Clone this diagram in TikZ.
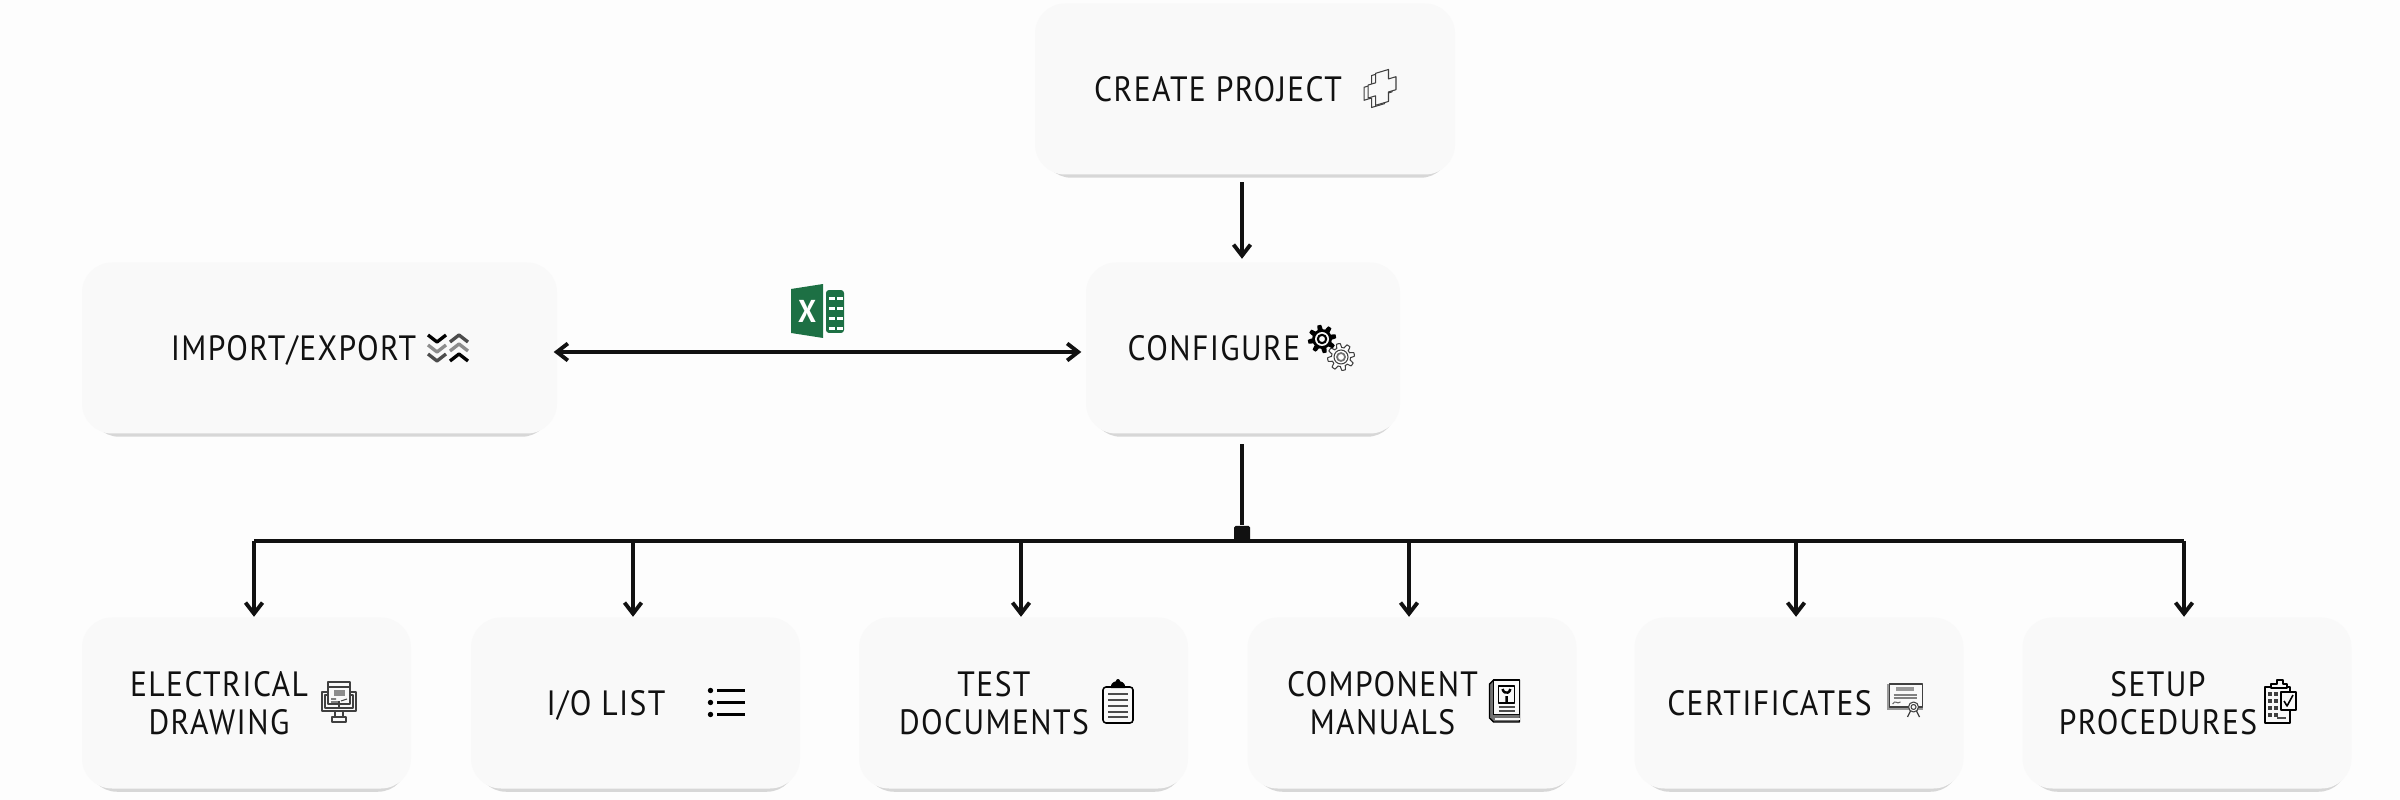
\documentclass[tikz,border=0pt]{standalone}
\usepackage{fontspec}
\setmainfont[LetterSpace=4,FakeStretch=.9]{PT Sans}
\usetikzlibrary{calc,positioning,arrows.meta,shadows}

\definecolor{pagegray}{HTML}{FDFDFD}
\definecolor{panelgray}{HTML}{F9F9F9}
\definecolor{inkblack}{HTML}{111111}
\definecolor{excelgreen}{HTML}{1D7044}

\tikzset{
    icon/.style={x=.01cm,y=.01cm,line join=round},
    thinline/.style={draw=black!75,line width=.3pt},
    pics/crossicon/.style={code={
        \begin{scope}[icon,yslant=.3,thinline,fill=panelgray]
            \foreach \d in {-4,0}
                \draw[fill=panelgray,shift={(\d+2,\d/4)}] (-6.5,16) -- (6.5,16) -- (6.5,6.5) -- (14,6.5) -- (14,-6.5) -- (6.5,-6.5) -- (6.5,-16)
                    -- (-6.5,-16) -- (-6.5,-6.5) -- (-14,-6.5) -- (-14,6.5) -- (-6.5,6.5) -- cycle;
        \end{scope}
    }},
    pics/chevronicon/.style={code={
        \begin{scope}[icon,line width=.95pt]
            \draw[black] (-20,13) -- (-11,6) -- (-2,13);
            \draw[black!45] (-20,3) -- (-11,-4) -- (-2,3);
            \draw[black!70] (-20,-6) -- (-11,-13) -- (-2,-6);
            \draw[black!70] (2,6) -- (11,13) -- (20,6);
            \draw[black!45] (2,-3) -- (11,4) -- (20,-3);
            \draw[black] (2,-13) -- (11,-6) -- (20,-13);
        \end{scope}
    }},
    pics/gearicon/.style={code={
        \begin{scope}[icon]
            \fill[black,shift={(-9.5,9)}] plot[domain=0:360,samples=97] (\x:{12+2.2*max(-1,min(1,2.5*sin(8*\x)))}) -- cycle;
            \fill[panelgray,shift={(-9.5,9)}] (0,0) circle (7);
            \draw[black,line width=.6pt,shift={(-9.5,9)}] (0,0) circle (4.2);
            \draw[thinline,fill=white,shift={(9.5,-9)}] plot[domain=0:360,samples=97] (\x:{11.5+2*max(-1,min(1,2.5*sin(8*\x)))}) -- cycle;
            \draw[thinline,shift={(9.5,-9)}] (0,0) circle (7);
            \draw[black!55,line width=.5pt,shift={(9.5,-9)}] (0,0) circle (4);
        \end{scope}
    }},
    pics/excelicon/.style={code={
        \begin{scope}[icon]
            \fill[excelgreen,rounded corners=.03cm] (8,21) -- (26,21) -- (26,-22) -- (8,-22) -- cycle;
            \foreach \r in {14,4,-6,-16}
                \foreach \c in {11,19}
                    \fill[white] (\c,\r) rectangle ++(6,-3);
            \fill[white] (5,27) -- (7,27) -- (7,-27) -- (5,-27) -- cycle;
            \fill[excelgreen] (-27,22) -- (5,27) -- (5,-27) -- (-27,-22) -- cycle;
            \node[text=white,font=\bfseries\fontsize{9}{9}\selectfont,inner sep=0pt] (excelmark) at (-11,0) {X};
        \end{scope}
    }},
    pics/monitoricon/.style={code={
        \begin{scope}[icon,thinline]
            \draw[fill=panelgray] (-17,10) rectangle (17,-9);
            \draw (-14,7) rectangle (14,-6);
            \draw (-4,-9) -- (-4,-15) (4,-9) -- (4,-15);
            \draw (-7,-15) rectangle (7,-20);
            \draw[fill=panelgray] (-11,20) rectangle (11,-2);
            \draw (-11,15) -- (11,15);
            \fill[black!45] (-5,12) rectangle (6,6);
            \draw (-8,3) -- (-3,3) (-8,0) -- (-1,0) (2,1) -- (8,3);
            \draw (0,1) -- (0,-5);
        \end{scope}
    }},
    pics/listicon/.style={code={
        \begin{scope}[icon]
            \foreach \r in {12,0,-12} {
                \fill[black] (-16,\r) circle (2.7);
                \fill[black] (-10,\r+1.8) rectangle (18,\r-1.8);
            }
        \end{scope}
    }},
    pics/clipboardicon/.style={code={
        \begin{scope}[icon]
            \draw[black,line width=.45pt,rounded corners=.03cm] (-15,14) rectangle (15,-22);
            \fill[black] (-7,13) -- (-7,15) arc (180:0:7 and 5) -- (7,13) -- cycle;
            \fill[black] (0,20) circle (2);
            \foreach \r in {7,1,-5,-11,-16}
                \draw[black!70,line width=.4pt] (-10,\r) -- (10,\r);
        \end{scope}
    }},
    pics/manualicon/.style={code={
        \begin{scope}[icon]
            \draw[black,fill=black!55,line width=.4pt] (-15,17) -- (-11,21) -- (15,21) -- (15,-21) -- (-11,-21) -- (-15,-17) -- cycle;
            \draw[black,fill=panelgray,line width=.4pt] (-11,21) -- (15,21) -- (15,-14) -- (-11,-14) -- cycle;
            \draw[black,line width=.4pt] (-6,15) rectangle (10,-2);
            \draw[black,line width=.7pt] (2,-2) -- (2,5) (-2,12) arc (200:340:4.2 and 6);
            \foreach \r in {-6,-10}
                \draw[black!70,line width=.4pt] (-6,\r) -- (10,\r);
            \fill[black!55] (-15,-17) -- (-11,-14) -- (15,-14) -- (15,-17) -- cycle;
            \draw[panelgray,line width=.4pt] (-10,-18) -- (15,-18);
        \end{scope}
    }},
    pics/certificateicon/.style={code={
        \begin{scope}[icon]
            \fill[black!40] (-18,16) rectangle (18,-10);
            \draw[thinline,fill=panelgray] (-15,16) rectangle (18,-7);
            \fill[black!40] (-9,13) rectangle (9,9);
            \draw[black!50,line width=.4pt] (-11,5) -- (12,5) (-11,2) -- (12,2);
            \draw[black!60,line width=.3pt] (-12,-4) .. controls (-9,1) and (-8,-5) .. (-4,-2);
            \draw[black!75,line width=.35pt] (6,-11) -- (3,-17) (12,-11) -- (15,-17);
            \draw[thinline,fill=panelgray] (9,-7) circle (5);
            \draw[thinline] (9,-7) circle (2.5);
        \end{scope}
    }},
    pics/checklisticon/.style={code={
        \begin{scope}[icon]
            \draw[black,fill=panelgray,line width=.4pt] (-15,14) rectangle (10,-22);
            \draw[black,fill=panelgray,line width=.4pt] (-9,13) -- (-9,17) -- (-3,17) -- (-3,21) -- (3,21) -- (3,17) -- (7,17) -- (7,13) -- cycle;
            \foreach \r in {9,2,-5,-12}
                \foreach \c in {-12,-6}
                    \fill[black!75] (\c,\r) rectangle ++(4,-4);
            \draw[black,fill=panelgray,line width=.4pt] (1,9) rectangle (16,-9);
            \draw[black,line width=.45pt] (4,0) -- (7,-5) -- (13,6);
            \draw[black!70,line width=.4pt] (-3,-17) -- (6,-17);
        \end{scope}
    }}
}

\begin{document}
\begin{tikzpicture}[
        panel/.style={fill=panelgray,rounded corners=.3cm,minimum height=1.71cm,inner sep=0pt,
            drop shadow={shadow scale=.97,shadow xshift=.01cm,shadow yshift=-.06cm,opacity=.3}},
        lowpanel/.style={panel,minimum width=3.29cm},
        caption/.style={text=inkblack,align=center,inner sep=0pt,font=\fontsize{10}{10.9}\selectfont},
        oneliner/.style={caption,text height=.245cm,text depth=0pt},
        flow/.style={inkblack,line width=1.1pt,line join=round,-{Straight Barb[length=1.1mm,width=1.7mm]}},
        wire/.style={inkblack,line width=1.1pt}
    ]
    \useasboundingbox[fill=pagegray] (0,0) rectangle (24,8);

    % top of the chart
    \node[panel,minimum width=4.2cm] (create) at (12.45,7.11) {};
    \node[panel,minimum width=4.75cm] (import) at (3.195,4.52) {};
    \node[panel,minimum width=3.14cm] (configure) at (12.43,4.52) {};

    % lower row
    \node[lowpanel] (drawing) at (2.465,0.97) {};
    \node[lowpanel] (iolist) at (6.355,0.97) {};
    \node[lowpanel] (testdocs) at (10.235,0.97) {};
    \node[lowpanel] (manuals) at (14.12,0.97) {};
    \node[lowpanel] (certs) at (17.99,0.97) {};
    \node[lowpanel] (setup) at (21.87,0.97) {};

    % texts
    \node[oneliner] (createtext) at ([xshift=-.27cm]create.center) {CREATE PROJECT};
    \node[oneliner] (importtext) at ([xshift=-.26cm]import.center) {IMPORT/EXPORT};
    \node[oneliner] (configuretext) at ([xshift=-.29cm]configure.center) {CONFIGURE};
    \node[caption] (drawingtext) at ([xshift=-.275cm]drawing.center) {ELECTRICAL\\DRAWING};
    \node[oneliner] (iolisttext) at ([xshift=-.295cm]iolist.center) {I/O LIST};
    \node[caption] (testdocstext) at ([xshift=-.295cm]testdocs.center) {TEST\\DOCUMENTS};
    \node[caption] (manualstext) at ([xshift=-.295cm]manuals.center) {COMPONENT\\MANUALS};
    \node[oneliner] (certstext) at ([xshift=-.295cm]certs.center) {CERTIFICATES};
    \node[caption] (setuptext) at ([xshift=-.29cm]setup.center) {SETUP\\PROCEDURES};

    % icons
    \pic at (13.80,7.12) {crossicon};
    \pic at (4.48,4.52) {chevronicon};
    \pic at (13.315,4.52) {gearicon};
    \pic at (8.18,4.89) {excelicon};
    \pic at (3.39,0.98) {monitoricon};
    \pic at (7.265,0.975) {listicon};
    \pic at (11.18,0.99) {clipboardicon};
    \pic at (15.045,0.99) {manualicon};
    \pic at (19.045,1.0) {certificateicon};
    \pic at (22.80,0.99) {checklisticon};

    % connectors
    \node[fill=inkblack,rounded corners=.015cm,minimum width=.16cm,minimum height=.15cm,inner sep=0pt] (junction) at (12.42,2.665) {};
    \coordinate (tap1) at (2.54,2.59);
    \coordinate (tap2) at (6.33,2.59);
    \coordinate (tap3) at (10.21,2.59);
    \coordinate (tap4) at (14.09,2.59);
    \coordinate (tap5) at (17.96,2.59);
    \coordinate (tap6) at (21.84,2.59);

    \draw[flow,shorten <=.07cm,shorten >=.03cm] (junction |- create.south) -- (junction |- configure.north);
    \draw[flow,{Straight Barb[length=1.1mm,width=1.7mm]}-{Straight Barb[length=1.1mm,width=1.7mm]},shorten <=-.04cm,shorten >=.04cm] ([yshift=-.04cm]import.east) -- ([yshift=-.04cm]configure.west);
    \draw[wire,shorten <=.1cm] (junction |- configure.south) -- (junction);
    \draw[wire] (tap1) -- (tap6);
    \draw[flow] (tap1) -- (tap1 |- drawing.north);
    \draw[flow] (tap2) -- (tap2 |- iolist.north);
    \draw[flow] (tap3) -- (tap3 |- testdocs.north);
    \draw[flow] (tap4) -- (tap4 |- manuals.north);
    \draw[flow] (tap5) -- (tap5 |- certs.north);
    \draw[flow] (tap6) -- (tap6 |- setup.north);
\end{tikzpicture}
\end{document}
